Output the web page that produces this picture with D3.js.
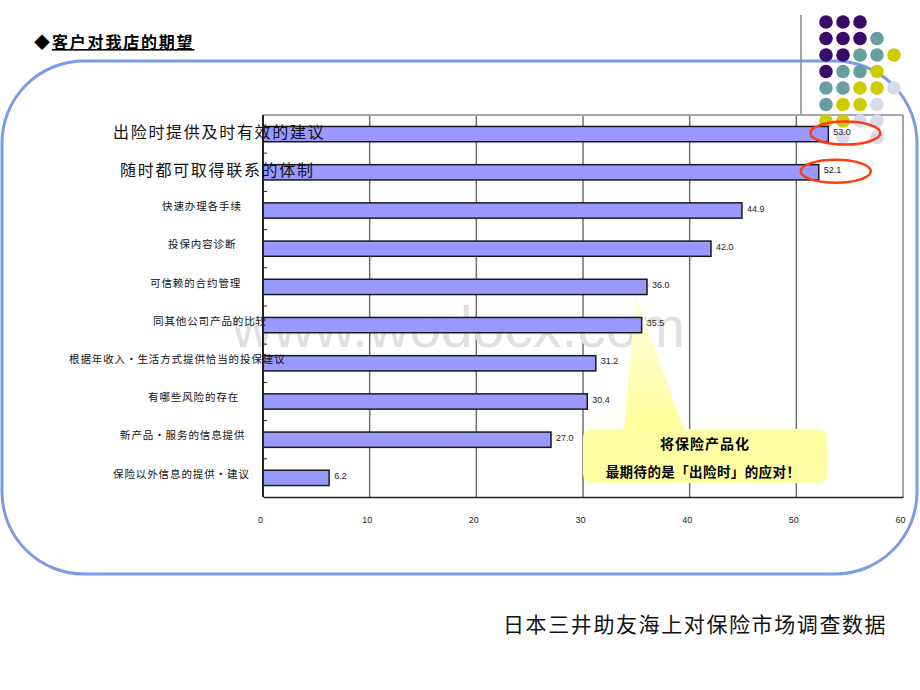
<!DOCTYPE html>
<html>
<head>
<meta charset="utf-8">
<script src="https://cdn.jsdelivr.net/npm/d3@7.9.0/dist/d3.min.js"></script>
<style>
  body { margin: 0; background: #fff; }
  text { font-family: "Noto Sans CJK SC", "Noto Sans", sans-serif; }
  .num { font-family: "Liberation Sans", Arial, sans-serif; }
</style>
</head>
<body>
<svg id="chart" width="920" height="690"></svg>
<script>
// data
const categories = [
  '出险时提供及时有效的建议',
  '随时都可取得联系的体制',
  '快速办理各手续',
  '投保内容诊断',
  '可信赖的合约管理',
  '同其他公司产品的比较',
  '根据年收入·生活方式提供恰当的投保建议',
  '有哪些风险的存在',
  '新产品·服务的信息提供',
  '保险以外信息的提供·建议'
];
const values = [53.0, 52.1, 44.9, 42.0, 36.0, 35.5, 31.2, 30.4, 27.0, 6.2];
const xTicks = [0, 10, 20, 30, 40, 50, 60];
const highlighted = [0, 1];   // the two circled bars

// layout only
const labelStart = [113, 120, 162, 168, 150, 153, 69, 148, 120, 113];
const dotRows = ['PPP', 'PPPT', 'PPTTY', 'PTTY', 'TTYYL', 'TYYL', 'YYLL', '_L_L'];
const dotColor = { P: '#3a0a68', T: '#689e9e', Y: '#cccc00', L: '#d9d9ec' };

const svg = d3.select('#chart');
const plot = { left: 263, right: 903, top: 115, bottom: 497 };

let x = d3.scaleLinear().domain([0, 60]).range([plot.left, plot.right]);
let y = d3.scaleBand().domain(categories).range([plot.top, plot.bottom])
  .paddingInner(0.6).paddingOuter(0.3);

// gradients
const defs = svg.append('defs');
const g1 = defs.append('linearGradient').attr('id', 'beam').attr('x1', 0).attr('y1', 0).attr('x2', 0).attr('y2', 1);
g1.append('stop').attr('offset', '0%').attr('stop-color', '#ffffe8');
g1.append('stop').attr('offset', '100%').attr('stop-color', '#ffff99');

// blue rounded frame
svg.append('rect')
  .attr('x', 2).attr('y', 61).attr('width', 915).attr('height', 513)
  .attr('rx', 82).attr('ry', 82)
  .attr('fill', 'none').attr('stroke', '#7b9be6').attr('stroke-width', 3);

// title
svg.append('text').attr('x', 34).attr('y', 48)
  .attr('font-size', 16).attr('font-weight', 'bold').text('◆');
svg.append('text').attr('x', 52).attr('y', 48)
  .attr('font-size', 16).attr('font-weight', 'bold')
  .attr('letter-spacing', 1.8)
  .attr('text-decoration', 'underline')
  .text('客户对我店的期望');

// decorative vertical line near the dots
svg.append('line').attr('x1', 801).attr('x2', 801).attr('y1', 15).attr('y2', plot.top)
  .attr('stroke', '#888').attr('stroke-width', 1.5);

// plot background
svg.append('rect')
  .attr('x', plot.left).attr('y', plot.top)
  .attr('width', plot.right - plot.left).attr('height', plot.bottom - plot.top)
  .attr('fill', '#fff');

// gridlines
svg.append('g').selectAll('line')
  .data(xTicks.slice(1, -1))
  .join('line')
  .attr('x1', d => x(d)).attr('x2', d => x(d))
  .attr('y1', plot.top).attr('y2', plot.bottom)
  .attr('stroke', '#707070').attr('stroke-width', 1.5);

// frame: top and right grey, left and bottom dark
svg.append('line').attr('x1', plot.left).attr('x2', plot.right).attr('y1', plot.top).attr('y2', plot.top)
  .attr('stroke', '#a6a6a6').attr('stroke-width', 2);
svg.append('line').attr('x1', plot.right).attr('x2', plot.right).attr('y1', plot.top).attr('y2', plot.bottom)
  .attr('stroke', '#888').attr('stroke-width', 1.5);

// watermark
svg.append('text').attr('class', 'num')
  .attr('x', 232).attr('y', 347)
  .attr('font-size', 57)
  .attr('fill', '#e0e0e0')
  .style('font-family', '"Liberation Sans", Arial, sans-serif')
  .text('www.wodocx.com');

// callout beam (behind bars)
const apexX = x(values[5]) - 6;
const apexY = y(categories[4]) + y.bandwidth();
svg.append('path')
  .attr('d', `M${apexX},${apexY} L624,430 L684,430 Z`)
  .attr('fill', 'url(#beam)');

// decorative dots
dotRows.forEach((row, r) => {
  row.split('').forEach((c, i) => {
    if (c === '_') return;
    svg.append('circle')
      .attr('cx', 826 + i * 17).attr('cy', 22 + r * 16.5)
      .attr('r', 6.8).attr('fill', dotColor[c]);
  });
});

// bars
svg.append('g').selectAll('rect')
  .data(values)
  .join('rect')
  .attr('x', x(0))
  .attr('y', (d, i) => y(categories[i]))
  .attr('width', d => x(d) - x(0))
  .attr('height', y.bandwidth())
  .attr('fill', '#9999ff')
  .attr('stroke', '#1a1a1a').attr('stroke-width', 1.5);

// value labels
svg.append('g').selectAll('text')
  .data(values)
  .join('text')
  .attr('class', 'num')
  .attr('x', d => x(d) + 5)
  .attr('y', (d, i) => y(categories[i]) + y.bandwidth() / 2 - 2)
  .attr('dy', '0.35em')
  .attr('font-size', 9)
  .attr('fill', '#222')
  .style('font-family', '"Liberation Sans", Arial, sans-serif')
  .text(d => d.toFixed(1));

// left axis with inner ticks at band edges
svg.append('line').attr('x1', plot.left).attr('x2', plot.left).attr('y1', plot.top).attr('y2', plot.bottom)
  .attr('stroke', '#222').attr('stroke-width', 2);
svg.append('g').selectAll('line')
  .data(categories.slice(1))
  .join('line')
  .attr('x1', plot.left).attr('x2', plot.left + 4)
  .attr('y1', d => y(d) - y.step() * y.paddingInner() / 2)
  .attr('y2', d => y(d) - y.step() * y.paddingInner() / 2)
  .attr('stroke', '#222').attr('stroke-width', 1);

// bottom axis
const xAxis = svg.append('g')
  .attr('transform', `translate(0,${plot.bottom})`)
  .call(d3.axisBottom(x).tickValues(xTicks).tickSize(0).tickPadding(20).tickFormat(d3.format('d')));
xAxis.select('.domain').attr('stroke', '#222').attr('stroke-width', 1.5);
xAxis.selectAll('text')
  .attr('font-size', 9).attr('fill', '#222')
  .attr('dx', -3)
  .style('font-family', '"Liberation Sans", Arial, sans-serif');

// category labels (the first two are enlarged)
svg.append('g').selectAll('text')
  .data(categories)
  .join('text')
  .attr('x', (d, i) => labelStart[i])
  .attr('y', (d, i) => y(d) + y.bandwidth() / 2 - (highlighted.includes(i) ? 2 : 4))
  .attr('dy', '0.35em')
  .attr('font-size', (d, i) => highlighted.includes(i) ? 16 : 10.5)
  .attr('letter-spacing', (d, i) => highlighted.includes(i) ? 1.7 : 0.9)
  .attr('fill', '#111')
  .text(d => d);

// red ellipses round the top two values
svg.append('g').selectAll('ellipse')
  .data(highlighted)
  .join('ellipse')
  .attr('cx', i => x(values[i]) + 17)
  .attr('cy', i => y(categories[i]) + y.bandwidth() / 2 - 1)
  .attr('rx', 35).attr('ry', 11.5)
  .attr('fill', 'none').attr('stroke', '#ff3c10').attr('stroke-width', 2.5);

// callout box
svg.append('rect')
  .attr('x', 583).attr('y', 429).attr('width', 244).attr('height', 54)
  .attr('rx', 9).attr('fill', '#ffffa3');
svg.append('text').attr('x', 705).attr('y', 444).attr('dy', '0.35em')
  .attr('text-anchor', 'middle').attr('font-size', 14).attr('font-weight', 'bold')
  .attr('letter-spacing', 1)
  .text('将保险产品化');
svg.append('text').attr('x', 703).attr('y', 472).attr('dy', '0.35em')
  .attr('text-anchor', 'middle').attr('font-size', 13.5).attr('font-weight', 'bold')
  .attr('letter-spacing', 0.4)
  .text('最期待的是「出险时」的应对！');

// source
svg.append('text').attr('x', 503).attr('y', 625).attr('dy', '0.35em')
  .attr('font-size', 21)
  .attr('letter-spacing', 1.6)
  .attr('fill', '#111')
  .text('日本三井助友海上对保险市场调查数据');
</script>
</body>
</html>
